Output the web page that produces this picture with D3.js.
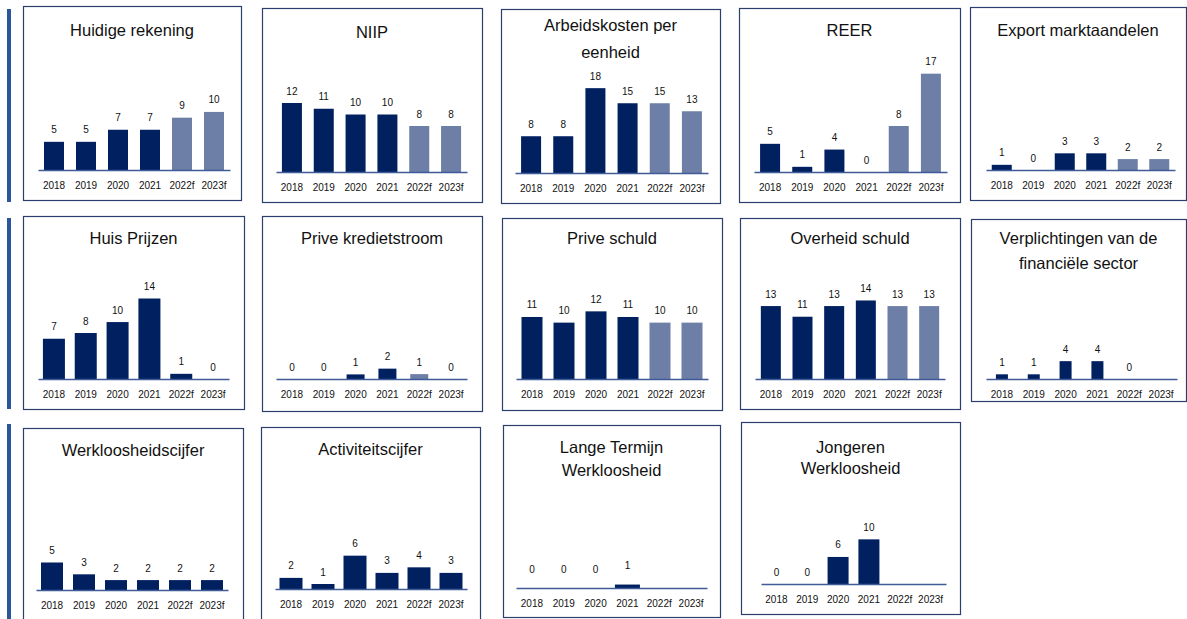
<!DOCTYPE html>
<html>
<head>
<meta charset="utf-8">
<script src="https://cdn.jsdelivr.net/npm/d3@7"></script>
<style>
  body { margin: 0; background: #fff; }
  svg text { font-family: "Liberation Sans", Arial, sans-serif; fill: #111; }
</style>
</head>
<body>
<svg id="chart"></svg>
<script>
var years = ["2018", "2019", "2020", "2021", "2022f", "2023f"]

var titles = [
  ["Huidige rekening"], ["NIIP"], ["Arbeidskosten per", "eenheid"], ["REER"], ["Export marktaandelen"],
  ["Huis Prijzen"], ["Prive kredietstroom"], ["Prive schuld"], ["Overheid schuld"], ["Verplichtingen van de", "financiële sector"],
  ["Werkloosheidscijfer"], ["Activiteitscijfer"], ["Lange Termijn", "Werkloosheid"], ["Jongeren", "Werkloosheid"]
]

// values per indicator (labels are rounded)
var huidigeRekening = [4.9, 4.9, 7.0, 7.0, 9.1, 10.1]
var niip = [12.0, 11.0, 10.0, 10.0, 8.0, 8.0]
var arbeidskosten = [7.8, 7.8, 18.0, 14.8, 14.8, 13.1]
var reer = [4.9, 0.9, 3.9, 0.0, 8.0, 17.1]
var exportAandelen = [0.9, 0.0, 2.9, 2.9, 1.9, 1.9]
var huisPrijzen = [7.0, 8.0, 9.9, 14.0, 0.9, 0.0]
var priveKrediet = [0.0, 0.0, 0.8, 1.8, 0.85, 0.0]
var priveSchuld = [11.0, 10.0, 12.0, 11.0, 10.0, 10.0]
var overheidSchuld = [13.0, 11.1, 13.0, 14.0, 13.0, 13.0]
var verplichtingen = [1.0, 1.0, 3.8, 3.8, 0.0, null]
var werkloosheid = [5.0, 2.85, 1.8, 1.8, 1.8, 1.8]
var activiteit = [2.0, 0.9, 6.0, 2.9, 3.9, 2.9]
var langeTermijn = [0.0, 0.0, 0.0, 0.6, null, null]
var jongeren = [0.0, 0.0, 6.0, 9.9, null, null]

var values = [huidigeRekening, niip, arbeidskosten, reer, exportAandelen,
  huisPrijzen, priveKrediet, priveSchuld, overheidSchuld, verplichtingen,
  werkloosheid, activiteit, langeTermijn, jongeren]

// forecast years drawn lighter?
var forecastLight = [true, true, true, true, true, false, true, true, true, false, false, false, false, false]

// y domain max per panel
var yMax = [20, 20, 24.4, 20, 20, 20, 20, 20.4, 20.5, 24.5, 20.9, 20.7, 20, 25.5]

// ---- layout ----
var width = 1187, height = 619, plotH = 115

var boxes = [
  [23, 6, 241, 200], [262, 8, 482, 202], [501, 9, 720, 203], [739, 8, 960, 202], [970, 7, 1186, 200],
  [23, 216, 244, 409], [262, 216, 482, 411], [502, 218, 722, 410], [740, 218, 960, 409], [971, 219, 1186, 401],
  [23, 428, 243, 630], [261, 427, 480, 630], [503, 425, 720, 617], [741, 422, 960, 614]
]
var axisX = [
  [38, 230], [276, 467], [515, 708], [754, 947], [986, 1175],
  [38, 229], [276, 467], [516, 708], [755, 945], [986, 1177],
  [36, 228], [275, 467], [516, 707], [761, 946]
]
var baseY = [170, 172, 173, 172, 170, 379, 379, 379, 379, 379, 590, 589, 588, 584]
var barW = [20, 20, 20, 20, 20, 22, 18, 21, 20, 12, 22, 23, 25, 21]
var labelGap = [12, 12, 12, 12, 12, 12, 12, 12, 12, 12, 12, 12, 19, 12]
var titleY = [[30], [32], [25, 52], [30], [30], [238], [238], [238], [238], [238, 263],
  [450], [449], [447, 470], [447, 468]]
var rowBars = [[9, 202], [218, 409], [424, 625]]

var dark = "#002060", light = "#6d7ea7"

var svg = d3.select("#chart")
  .attr("width", width)
  .attr("height", height)

svg.selectAll("rect.rowbar")
  .data(rowBars)
  .enter()
  .append("rect")
  .attr("class", "rowbar")
  .attr("x", 7)
  .attr("width", 4)
  .attr("y", d => d[0])
  .attr("height", d => d[1] - d[0])
  .style("fill", "#2b579a")

var fmt = d3.format(".0f")

values.forEach(function (vals, i) {
  var b = boxes[i]
  var g = svg.append("g").attr("class", "panel")

  g.append("rect")
    .attr("x", b[0] + 0.5)
    .attr("y", b[1] + 0.5)
    .attr("width", b[2] - b[0])
    .attr("height", b[3] - b[1])
    .style("fill", "#fff")
    .style("stroke", "#2a3f6e")
    .style("stroke-width", 1.2)

  var cx = (b[0] + b[2]) / 2
  g.selectAll("text.title")
    .data(titles[i])
    .enter()
    .append("text")
    .attr("class", "title")
    .attr("x", cx)
    .attr("y", (d, j) => titleY[i][j])
    .attr("dy", "0.35em")
    .attr("text-anchor", "middle")
    .style("font-size", "16.5px")
    .text(d => d)

  var x = d3.scaleBand()
    .domain(years)
    .range(axisX[i])

  var y = d3.scaleLinear()
    .domain([0, yMax[i]])
    .range([baseY[i], baseY[i] - plotH])

  var data = years.map((yr, j) => ({ year: yr, v: vals[j], fc: j >= 4 }))
    .filter(d => d.v !== null)

  g.selectAll("rect.bar")
    .data(data)
    .enter()
    .append("rect")
    .attr("class", "bar")
    .attr("x", d => x(d.year) + (x.bandwidth() - barW[i]) / 2)
    .attr("width", barW[i])
    .attr("y", d => y(d.v))
    .attr("height", d => y(0) - y(d.v))
    .style("fill", d => (d.fc && forecastLight[i]) ? light : dark)

  g.selectAll("text.val")
    .data(data)
    .enter()
    .append("text")
    .attr("class", "val")
    .attr("x", d => x(d.year) + x.bandwidth() / 2)
    .attr("y", d => y(d.v) - labelGap[i])
    .attr("dy", "0.35em")
    .attr("text-anchor", "middle")
    .style("font-size", "10px")
    .text(d => fmt(d.v))

  var axis = g.append("g")
    .attr("transform", "translate(0," + baseY[i] + ")")
    .call(d3.axisBottom(x).tickSize(0).tickSizeOuter(0).tickPadding(12))

  axis.select(".domain")
    .style("stroke", "#3f5c96")
    .style("stroke-width", 1.5)
  axis.selectAll("text")
    .style("font-size", "10px")
    .style("font-family", "Liberation Sans, Arial, sans-serif")
    .style("fill", "#111")
})
</script>
</body>
</html>
